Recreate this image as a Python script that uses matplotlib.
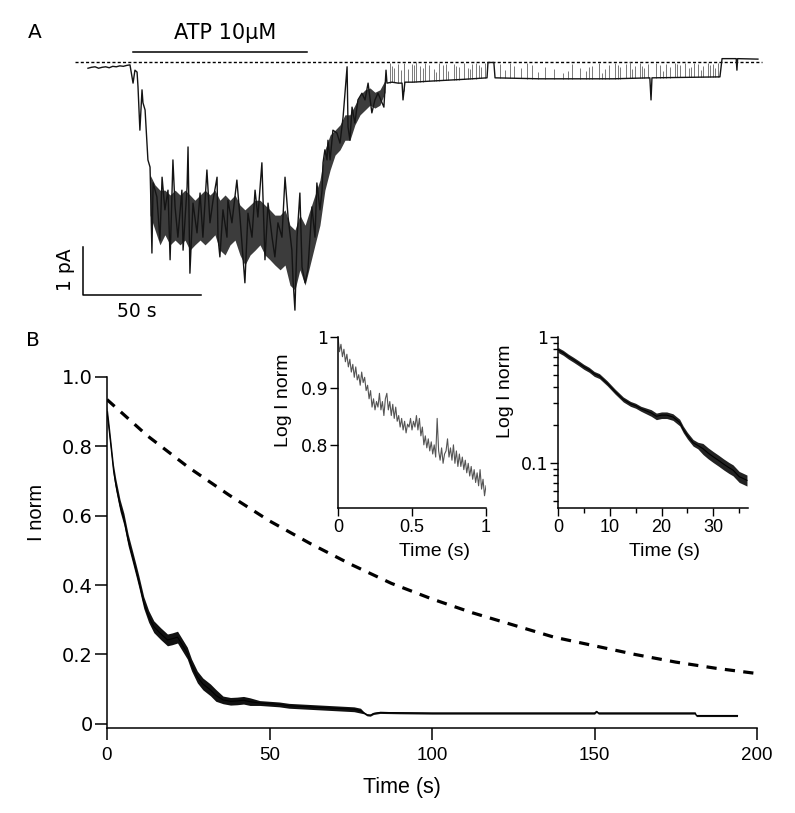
import numpy as np
import matplotlib
matplotlib.use('Agg')
import matplotlib.pyplot as plt
from matplotlib.ticker import NullLocator, NullFormatter, LogLocator, FixedLocator

plt.rcParams['font.family'] = ['Liberation Sans', 'DejaVu Sans']
WIDE = ['DejaVu Sans']   # the reference's labels look horizontally stretched

# ---- panel A: single-channel current trace (time in s, current in pA) ----
a_t = [5.5, 7, 8.5, 10, 11.5, 13, 14.5, 16, 17.5, 19, 20.5, 22, 23.3, 24.6, 25.4,
       26.3, 26.7, 27.5, 28.4, 28.8, 29.7, 30.5, 30.9, 31.8, 32.2, 32.6, 33.1, 34.7,
       36.0, 36.9, 38.1, 39.4, 40.3, 41.5, 42.4, 43.6, 45.3, 45.8, 47.5, 47.9, 48.7,
       50.0, 51.7, 53.0, 54.2, 55.9, 57.2, 58.5, 60.2, 60.6, 61.4, 62.7, 64.4, 64.8,
       66.5, 68.6, 69.9, 72.0, 73.3, 75.0, 76.3, 77.5, 79.2, 79.7, 80.5, 81.8, 83.5,
       84.7, 86.0, 87.7, 89.0, 90.3, 91.9, 92.4, 93.2, 94.1, 95.3, 96.2, 97.5, 98.7,
       99.6, 100.4, 101.7, 102.5, 103.8, 104.7, 105.1, 105.9, 106.8, 107.2, 108.1,
       109.3, 111.0, 112.3, 113.6, 115.3, 115.7, 116.5, 117.4, 118.6, 119.9, 121.6,
       122.9, 124.2, 125.8, 127.1, 128.4, 130.1, 130.9, 131.8, 132.2, 134.3, 136.9,
       138.6, 139.0, 139.8, 143.2, 150, 157.6, 165, 174.6, 175.0, 177.5, 178.0, 187,
       197.0, 212, 228.0, 243.6, 244.1, 244.5, 258, 273.3, 274.2, 280.2, 280.5, 280.8,
       289.4]
a_i = [-0.13, -0.11, -0.10, -0.13, -0.11, -0.10, -0.12, -0.09, -0.10, -0.08, -0.09,
       -0.07, -0.06, -0.44, -0.17, -0.21, -0.52, -1.42, -0.58, -0.85, -1.00, -1.69,
       -2.04, -2.19, -3.02, -3.98, -2.52, -2.81, -3.71, -2.40, -3.08, -2.67, -4.12,
       -2.04, -3.02, -3.65, -2.67, -3.92, -2.60, -1.77, -4.40, -2.94, -3.56, -2.73,
       -3.65, -2.25, -3.35, -2.88, -2.40, -3.65, -4.06, -3.08, -3.65, -2.88, -3.35,
       -2.46, -3.23, -4.60, -3.15, -3.65, -2.67, -3.23, -2.10, -2.88, -4.12, -2.94,
       -3.65, -4.06, -3.35, -3.65, -2.40, -3.23, -3.92, -4.54, -5.17, -3.65, -2.73,
       -4.27, -4.60, -4.33, -3.65, -3.02, -3.65, -2.52, -3.08, -2.67, -2.10, -1.83,
       -2.04, -1.63, -2.04, -1.42, -1.48, -1.69, -1.15, -0.10, -1.35, -1.63, -0.94,
       -1.27, -0.79, -0.65, -0.79, -0.44, -1.06, -0.79, -0.65, -0.85, -0.94, -0.17,
       -0.44, -0.42, -0.44, -0.44, -0.79, -0.42, -0.42, -0.40, -0.38, -0.36, -0.33,
       -0.01, -0.01, -0.33, -0.34, -0.35, -0.35, -0.35, -0.33, -0.79, -0.33, -0.32,
       -0.31, 0.07, 0.07, -0.17, 0.07, 0.06]

# dense noise band of the trace during and after ATP (time, upper, lower in pA)
env_t = [31.8, 33.9, 36.0, 38.1, 40.3, 42.4, 44.5, 46.6, 48.7, 50.8, 53.0, 55.1, 57.2,
         59.3, 61.4, 63.6, 65.7, 67.8, 69.9, 72.0, 74.2, 76.3, 78.4, 80.5, 82.6, 84.7,
         86.9, 89.0, 91.1, 93.2, 95.3, 97.5, 99.6, 101.7, 103.8, 105.9, 108.1, 110.2,
         112.3, 114.4, 116.5, 118.6, 120.8, 122.9, 125.0, 127.1, 129.2, 131.4]
env_hi = [-2.35, -2.56, -2.67, -2.67, -2.77, -2.67, -2.77, -2.67, -2.77, -2.88, -2.77,
          -2.67, -2.77, -2.67, -2.88, -2.77, -2.88, -2.77, -2.98, -3.08, -2.98, -2.88,
          -2.88, -2.98, -3.08, -3.19, -3.19, -3.08, -3.40, -3.50, -3.19, -3.40, -3.08,
          -2.77, -2.46, -1.83, -1.52, -1.42, -1.31, -1.10, -1.10, -0.90, -0.69, -0.58,
          -0.54, -0.63, -0.58, -0.38]
env_lo = [-3.19, -3.50, -3.81, -3.60, -3.81, -3.71, -3.81, -3.71, -3.92, -3.81, -3.71,
          -3.81, -3.71, -3.60, -3.92, -4.02, -3.81, -3.71, -4.02, -4.23, -4.02, -3.92,
          -3.81, -4.02, -4.12, -4.23, -4.33, -4.23, -4.65, -4.75, -4.33, -4.65, -4.23,
          -3.81, -3.40, -2.67, -2.25, -1.94, -1.83, -1.63, -1.63, -1.31, -1.10, -1.00,
          -0.90, -0.96, -0.90, -0.63]

# brief openings during washout (time, top of spike in pA)
spike_t = [133.5, 135.2, 137.0, 139.4, 141.0, 142.8, 144.6, 146.3, 148.5, 150.1,
           152.0, 154.3, 156.0, 158.2, 160.4, 162.8, 164.7, 166.4, 168.2, 170.1,
           172.0, 173.6, 180.3, 182.1, 184.5, 186.2, 189.0, 191.4, 193.6, 196.2,
           199.0, 203.1, 206.8, 210.5, 213.9, 216.6, 219.2, 222.0, 224.4, 226.1,
           228.9, 231.0, 233.4, 235.2, 237.1, 239.5, 241.2, 243.0, 246.1, 248.0,
           250.4, 252.2, 254.1, 256.5, 258.3, 260.0, 262.4, 264.2, 266.0, 268.1,
           270.2, 272.3, 134.4, 138.2, 143.7, 147.4, 153.1, 157.1, 161.6, 167.3,
           171.0, 209.0, 217.8, 223.2, 230.0, 236.2, 240.3, 249.2, 255.3, 261.2,
           265.1, 269.1, 271.2]
spike_top = [-0.02, -0.12, -0.05, -0.02, -0.15, -0.04, -0.01, -0.09, -0.03, -0.06,
             -0.14, -0.02, -0.07, -0.18, -0.04, -0.10, -0.02, -0.13, -0.05, -0.03,
             -0.11, -0.02, -0.04, -0.16, -0.03, -0.08, -0.12, -0.02, -0.06, -0.20,
             -0.10, -0.15, -0.22, -0.05, -0.12, -0.18, -0.08, -0.03, -0.14, -0.06,
             -0.02, -0.10, -0.04, -0.01, -0.09, -0.03, -0.12, -0.05, -0.02, -0.07,
             -0.04, -0.11, -0.02, -0.06, -0.03, -0.13, -0.02, -0.05, -0.08, -0.02,
             -0.04, -0.03, -0.08, -0.17, -0.06, -0.12, -0.20, -0.05, -0.09, -0.15,
             -0.07, -0.18, -0.10, -0.22, -0.06, -0.14, -0.08, -0.19, -0.05, -0.11,
             -0.16, -0.07, -0.12]

# ---- panel B: normalised current decay ----
b_t = [0, 0.5, 1.2, 2.0, 2.7, 4.0, 5.2, 6.5, 7.9, 9.0, 9.8, 11.3, 12.8, 14.4, 16.5,
       18.6, 20.0, 21.7, 23.0, 24.7, 26.0, 27.8, 29.5, 31.8, 33.5, 35.7, 38, 40, 42,
       44, 47, 50, 53, 56, 60, 64, 68, 72, 76, 78, 79, 80, 81, 82, 84, 90, 100, 110,
       120, 130, 140, 150, 150.6, 151.2, 160, 170, 181, 181.3, 188, 194]
b_y = [0.90, 0.86, 0.80, 0.73, 0.69, 0.63, 0.59, 0.53, 0.48, 0.44, 0.41, 0.35,
       0.31, 0.28, 0.26, 0.242, 0.245, 0.25, 0.23, 0.204, 0.17, 0.135, 0.115, 0.098,
       0.082, 0.069, 0.065, 0.066, 0.068, 0.064, 0.06, 0.058, 0.056, 0.052, 0.05,
       0.048, 0.046, 0.044, 0.042, 0.038, 0.032, 0.026, 0.025, 0.03, 0.033, 0.032,
       0.031, 0.031, 0.031, 0.031, 0.031, 0.031, 0.036, 0.031, 0.031, 0.031, 0.031,
       0.024, 0.024, 0.024]
b_noise = [0.017] * 25 + [0.011] * 5 + [0.007] * 10 + [0.003] * 20

# dashed reference decay
fit_t = [0, 12.5, 25, 37.5, 50, 62.5, 75, 87.5, 100, 112.5, 125, 137.5, 150, 162.5,
         175, 187.5, 200]
fit_y = [0.935, 0.83, 0.74, 0.66, 0.585, 0.52, 0.46, 0.405, 0.36, 0.32, 0.285, 0.25,
         0.225, 0.2, 0.178, 0.16, 0.145]

# inset 1: first second (log axis)
i1_y = [1.00, 0.97, 0.985, 0.96, 0.975, 0.95, 0.965, 0.94, 0.955, 0.93, 0.945, 0.92,
        0.94, 0.915, 0.925, 0.905, 0.93, 0.91, 0.92, 0.895, 0.905, 0.88, 0.895, 0.865,
        0.88, 0.86, 0.875, 0.865, 0.89, 0.86, 0.875, 0.85, 0.88, 0.89, 0.86, 0.875,
        0.85, 0.87, 0.845, 0.865, 0.84, 0.85, 0.83, 0.845, 0.825, 0.84, 0.82, 0.835,
        0.83, 0.845, 0.825, 0.84, 0.83, 0.85, 0.825, 0.845, 0.815, 0.83, 0.80, 0.815,
        0.795, 0.81, 0.79, 0.805, 0.785, 0.80, 0.78, 0.845, 0.79, 0.775, 0.795, 0.77,
        0.785, 0.79, 0.81, 0.78, 0.795, 0.775, 0.80, 0.77, 0.79, 0.765, 0.785, 0.765,
        0.78, 0.76, 0.775, 0.755, 0.77, 0.75, 0.765, 0.745, 0.76, 0.74, 0.755, 0.735,
        0.76, 0.73, 0.745, 0.72, 0.735]
i1_t = np.linspace(0, 1, len(i1_y))

# inset 2: first 36 s (log axis)
c_t = [0, 1, 2, 3, 4, 5, 6, 7, 8, 9.5, 11, 12.6, 14, 15, 16, 18, 19, 20, 21, 22.2,
       23.5, 24.2, 25, 26.1, 27, 28, 29, 30, 31, 32, 33, 33.8, 35, 36.5]
c_y = [0.79, 0.75, 0.70, 0.66, 0.62, 0.58, 0.55, 0.51, 0.49, 0.43, 0.37, 0.32, 0.295,
       0.285, 0.27, 0.25, 0.235, 0.24, 0.24, 0.232, 0.21, 0.185, 0.165, 0.145, 0.138,
       0.13, 0.12, 0.112, 0.105, 0.098, 0.092, 0.088, 0.078, 0.073]
c_band = [0.045] * 15 + [0.06] * 10 + [0.10] * 9

W, H = 795, 813


def rect(l, t, r, b):
    return [l / W, 1 - b / H, (r - l) / W, (b - t) / H]


fig = plt.figure(figsize=(W / 100, H / 100), dpi=100)

# ---------------- panel A ----------------
axA = fig.add_axes(rect(75, 23.6, 765, 326))
axA.set_xlim(0, 292.4)
axA.set_ylim(-5.5, 0.8)
axA.axis('off')
axA.plot([0, 291], [0, 0], color='k', lw=1.0, linestyle=(0, (2.2, 1.6)))
base = np.interp(spike_t, a_t, a_i)
axA.vlines(spike_t, base, spike_top, color='#7a7a7a', lw=0.7)
axA.fill_between(env_t, env_lo, env_hi, color='#3c3c3c', lw=0)
axA.plot(a_t, a_i, color='#141414', lw=1.0)
axA.plot([24.6, 98.3], [0.21, 0.21], color='k', lw=1.1)
axA.text(63.6, 0.60, 'ATP 10μM', ha='center', va='center', fontsize=15, family=WIDE)
axA.plot([3.4, 3.4, 53.4], [-3.85, -4.85, -4.85], color='k', lw=1.1)
axA.text(-4.2, -4.33, '1 pA', rotation=90, ha='center', va='center', fontsize=13.5,
         family=WIDE)
axA.text(26.3, -5.2, '50 s', ha='center', va='center', fontsize=13.5, family=WIDE)

fig.text(35 / W, 1 - 33 / H, 'A', ha='center', va='center', fontsize=14.5, family=WIDE)
fig.text(33 / W, 1 - 340 / H, 'B', ha='center', va='center', fontsize=14.5, family=WIDE)

# ---------------- panel B ----------------
axB = fig.add_axes(rect(107, 377, 757, 728))
axB.set_xlim(0, 200)
axB.set_ylim(-0.012, 1.0)
for s in ['top', 'right']:
    axB.spines[s].set_visible(False)
for s in ['left', 'bottom']:
    axB.spines[s].set_linewidth(1.1)
b_y_arr = np.array(b_y)
b_n = np.array(b_noise)
axB.fill_between(b_t, b_y_arr - b_n, b_y_arr + b_n, color='#111111', lw=0)
axB.plot(b_t, b_y, color='k', lw=0.8)
axB.plot(fit_t, fit_y, color='k', lw=2.3, linestyle=(0, (3.2, 2.6)))
axB.set_xticks([0, 50, 100, 150, 200])
axB.set_yticks([0, 0.2, 0.4, 0.6, 0.8, 1.0])
axB.set_yticklabels(['0', '0.2', '0.4', '0.6', '0.8', '1.0'])
axB.tick_params(direction='out', length=8.5, width=1.1)
axB.tick_params(axis='x', labelsize=13.5, pad=5)
axB.tick_params(axis='y', labelsize=14, pad=1.5)
for lab in axB.get_yticklabels():
    lab.set_family(WIDE)
axB.set_xlabel('Time (s)', fontsize=15.5)
axB.xaxis.set_label_coords(0.454, -59 / 351)
axB.xaxis.label.set_va('center')
axB.set_ylabel('I norm', fontsize=14.5)
axB.yaxis.set_label_coords(-70 / 650, 0.613)
axB.yaxis.label.set_va('center')

# ---------------- inset 1 ----------------
ax1 = fig.add_axes(rect(338, 337, 486, 508))
ax1.set_facecolor('none')
ax1.set_yscale('log')
ax1.set_xlim(0, 1)
ax1.set_ylim(0.702, 1.0)
ax1.plot(i1_t, i1_y, color='#555555', lw=0.8)
ax1.yaxis.set_major_locator(FixedLocator([0.8, 0.9, 1.0]))
ax1.yaxis.set_minor_locator(NullLocator())
ax1.yaxis.set_minor_formatter(NullFormatter())
ax1.set_yticklabels(['0.8', '0.9', '1'])
ax1.set_xticks([0, 0.5, 1])
ax1.set_xticklabels(['0', '0.5', '1'])

# ---------------- inset 2 ----------------
ax2 = fig.add_axes(rect(558, 337, 748, 508))
ax2.set_facecolor('none')
ax2.set_yscale('log')
ax2.set_xlim(0, 36.7)
ax2.set_ylim(0.044, 1.0)
c_y_arr = np.array(c_y)
c_b = np.array(c_band)
ax2.fill_between(c_t, c_y_arr * (1 - c_b), c_y_arr * (1 + c_b), color='#222222', lw=0)
ax2.plot(c_t, c_y, color='k', lw=0.8)
ax2.yaxis.set_major_locator(FixedLocator([0.1, 1.0]))
ax2.yaxis.set_minor_locator(LogLocator(base=10, subs=np.arange(2, 10)))
ax2.yaxis.set_minor_formatter(NullFormatter())
ax2.set_yticklabels(['0.1', '1'])
ax2.set_xticks([0, 10, 20, 30])
ax2.set_xticks([5, 15, 25, 35], minor=True)

for ax, lx, ly, xl in [(ax1, -55 / 148, 0.63, 0.65), (ax2, -53 / 190, 0.68, 0.56)]:
    for s in ['top', 'right']:
        ax.spines[s].set_visible(False)
    for s in ['left', 'bottom']:
        ax.spines[s].set_linewidth(1.1)
    ax.tick_params(which='major', direction='out', length=6, width=1.0, pad=2)
    ax.tick_params(which='minor', direction='out', length=3.5, width=1.0)
    ax.tick_params(axis='x', labelsize=13)
    ax.tick_params(axis='y', labelsize=12.5, pad=1)
    for lab in ax.get_yticklabels():
        lab.set_family(WIDE)
    ax.set_ylabel('Log I norm', fontsize=14)
    ax.yaxis.set_label_coords(lx, ly)
    ax.yaxis.label.set_va('center')
    ax.set_xlabel('Time (s)', fontsize=14)
    ax.xaxis.set_label_coords(xl, -44 / 171)
    ax.xaxis.label.set_va('center')

fig.savefig('out.png', dpi=100)
